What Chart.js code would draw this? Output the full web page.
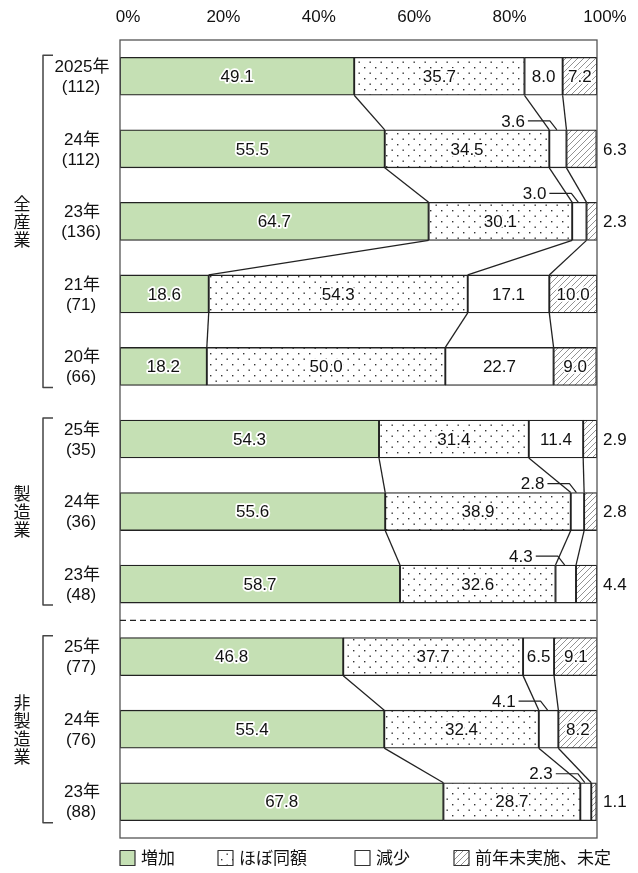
<!DOCTYPE html>
<html><head><meta charset="utf-8">
<script src="https://cdn.jsdelivr.net/npm/chart.js@4.4.1/dist/chart.umd.min.js"></script>
<style>html,body{margin:0;padding:0;background:#fff}canvas{display:block}</style>
</head><body>
<canvas id="c" width="638" height="873"></canvas>
<script>
// Survey rows (top to bottom) and their respondent counts
const years  = ['2025年','24年','23年','21年','20年','25年','24年','23年','25年','24年','23年'];
const counts = [112,112,136,71,66,35,36,48,77,76,88];
// Industry groups and how many rows each spans
const groupNames = ['全産業','製造業','非製造業'];
const groupSizes = [5,3,3];
// Series (percent of respondents)
const seriesNames = ['増加','ほぼ同額','減少','前年未実施、未定'];
const increase  = [49.1,55.5,64.7,18.6,18.2,54.3,55.6,58.7,46.8,55.4,67.8];
const same      = [35.7,34.5,30.1,54.3,50.0,31.4,38.9,32.6,37.7,32.4,28.7];
const decrease  = [8.0,3.6,3.0,17.1,22.7,11.4,2.8,4.3,6.5,4.1,2.3];
const undecided = [7.2,6.3,2.3,10.0,9.0,2.9,2.8,4.4,9.1,8.2,1.1];
// Percent axis
const tickStep = 20;

const NUM_FONT = '17px "Liberation Sans", Arial, sans-serif';
const JP_FONT = '"Liberation Sans", "Noto Sans CJK JP", sans-serif';

function makePattern(w, h, draw) {
  const c = document.createElement('canvas');
  c.width = w; c.height = h;
  const g = c.getContext('2d');
  g.fillStyle = '#fff'; g.fillRect(0, 0, w, h);
  draw(g);
  return document.createElement('canvas').getContext('2d').createPattern(c, 'repeat');
}
const dotPattern = makePattern(11, 11, g => {
  g.fillStyle = '#333';
  g.fillRect(1, 1, 1.4, 1.4);
  g.fillRect(6.5, 6.5, 1.4, 1.4);
});
const hatchPattern = makePattern(6, 6, g => {
  g.strokeStyle = '#777'; g.lineWidth = 0.8;
  g.beginPath();
  g.moveTo(0, 6); g.lineTo(6, 0);
  g.moveTo(-1, 1); g.lineTo(1, -1);
  g.moveTo(5, 7); g.lineTo(7, 5);
  g.stroke();
});
const fills = ['#c5e0b4', dotPattern, '#ffffff', hatchPattern];
const seriesData = [increase, same, decrease, undecided];

const decorations = {
  id: 'decorations',
  afterDatasetsDraw(chart) {
    const ctx = chart.ctx;
    const area = chart.chartArea;
    const xs = chart.scales.x, ys = chart.scales.y;
    const bar = chart.getDatasetMeta(0).data[0];
    const th = bar.height;
    const top = i => ys.getPixelForValue(i) - th / 2;
    const bot = i => ys.getPixelForValue(i) + th / 2;
    const cum = (i, k) => { let s = 0; for (let j = 0; j <= k; j++) s += seriesData[j][i]; return s; };

    ctx.save();
    // connecting lines between consecutive rows inside a group
    ctx.strokeStyle = '#222'; ctx.lineWidth = 1.3;
    let start = 0;
    groupSizes.forEach(n => {
      for (let i = start; i < start + n - 1; i++) {
        for (let k = 0; k < 3; k++) {
          ctx.beginPath();
          ctx.moveTo(xs.getPixelForValue(cum(i, k)), bot(i));
          ctx.lineTo(xs.getPixelForValue(cum(i + 1, k)), top(i + 1));
          ctx.stroke();
        }
      }
      start += n;
    });

    // frame round the plot
    ctx.strokeStyle = '#555'; ctx.lineWidth = 1.3;
    ctx.strokeRect(area.left, area.top, area.right - area.left, area.bottom - area.top);

    // dashed divider between manufacturing and non-manufacturing
    const dy = (ys.getPixelForValue(7) + ys.getPixelForValue(8)) / 2;
    ctx.setLineDash([6, 4]); ctx.strokeStyle = '#222';
    ctx.beginPath(); ctx.moveTo(area.left, dy); ctx.lineTo(area.right, dy); ctx.stroke();
    ctx.setLineDash([]);

    // value labels
    ctx.font = NUM_FONT; ctx.textBaseline = 'middle';
    for (let i = 0; i < years.length; i++) {
      const cy = ys.getPixelForValue(i);
      let s = 0;
      seriesData.forEach((arr, k) => {
        const v = arr[i];
        const x0 = xs.getPixelForValue(s), x1 = xs.getPixelForValue(s + v);
        const cx = (x0 + x1) / 2;
        const txt = v.toFixed(1);
        s += v;
        if (k === 3 && v < 7) {
          ctx.fillStyle = '#111'; ctx.textAlign = 'left';
          ctx.fillText(txt, area.right + 6, cy + 1);
        } else if (k === 2 && v < 5) {
          const t = top(i), ly = t - 9;
          ctx.fillStyle = '#111'; ctx.textAlign = 'right';
          ctx.fillText(txt, cx - 33, ly + 1);
          ctx.strokeStyle = '#222'; ctx.lineWidth = 1.2;
          ctx.beginPath();
          ctx.moveTo(cx - 30, ly); ctx.lineTo(cx - 8, ly); ctx.lineTo(cx - 1, t);
          ctx.stroke();
        } else {
          ctx.textAlign = 'center';
          ctx.lineJoin = 'round';
          ctx.strokeStyle = '#fff'; ctx.lineWidth = 3.5;
          ctx.strokeText(txt, cx, cy + 1);
          ctx.fillStyle = '#111';
          ctx.fillText(txt, cx, cy + 1);
        }
      });
    }

    // row labels
    ctx.fillStyle = '#111'; ctx.textAlign = 'center';
    ctx.font = '17px ' + JP_FONT;
    for (let i = 0; i < years.length; i++) {
      const cy = ys.getPixelForValue(i);
      ctx.fillText(years[i], 82, cy - 9);
      ctx.fillText('(' + counts[i] + ')', 81, cy + 11);
    }

    // group brackets and vertical group names
    ctx.strokeStyle = '#444'; ctx.lineWidth = 1.5;
    ctx.font = '17px "Noto Sans CJK JP", sans-serif';
    start = 0;
    groupSizes.forEach((n, g) => {
      const y0 = top(start) - 2, y1 = bot(start + n - 1) + 2;
      ctx.beginPath();
      ctx.moveTo(53, y0); ctx.lineTo(43, y0); ctx.lineTo(43, y1); ctx.lineTo(53, y1);
      ctx.stroke();
      const name = groupNames[g];
      const mid = (ys.getPixelForValue(start) + ys.getPixelForValue(start + n - 1)) / 2;
      const pitch = 18;
      for (let c = 0; c < name.length; c++) {
        ctx.fillText(name[c], 22, mid + (c - (name.length - 1) / 2) * pitch);
      }
      start += n;
    });

    // legend
    const lx = [120, 218, 355, 454], ly = 858, box = 15;
    ctx.font = '17px "Noto Sans CJK JP", sans-serif';
    ctx.textAlign = 'left';
    seriesNames.forEach((name, k) => {
      ctx.fillStyle = fills[k];
      ctx.fillRect(lx[k], ly - box / 2, box, box);
      ctx.strokeStyle = '#333'; ctx.lineWidth = 1.2;
      ctx.strokeRect(lx[k], ly - box / 2, box, box);
      ctx.fillStyle = '#111';
      ctx.fillText(name, lx[k] + box + 6, ly);
    });
    ctx.restore();
  }
};

new Chart(document.getElementById('c'), {
  type: 'bar',
  data: {
    labels: years,
    datasets: seriesNames.map((name, k) => ({
      label: name,
      data: seriesData[k],
      backgroundColor: fills[k],
      borderColor: '#222',
      borderWidth: 1.3,
      borderSkipped: false,
      barThickness: 38
    }))
  },
  options: {
    indexAxis: 'y',
    responsive: false,
    animation: false,
    devicePixelRatio: 1,
    layout: { padding: { left: 120, right: 41, top: 0, bottom: 35 } },
    plugins: { legend: { display: false }, tooltip: { enabled: false } },
    scales: {
      x: {
        position: 'top', stacked: true, min: 0, max: 100,
        grid: { display: false, drawTicks: false },
        border: { display: false },
        ticks: {
          stepSize: tickStep, padding: 12, labelOffset: 8,
          color: '#111', font: { family: '"Liberation Sans", Arial, sans-serif', size: 17 },
          callback: v => v + '%'
        },
        afterFit: s => { s.height = 40; }
      },
      y: { stacked: true, display: false }
    }
  },
  plugins: [decorations]
});
</script>
</body></html>
